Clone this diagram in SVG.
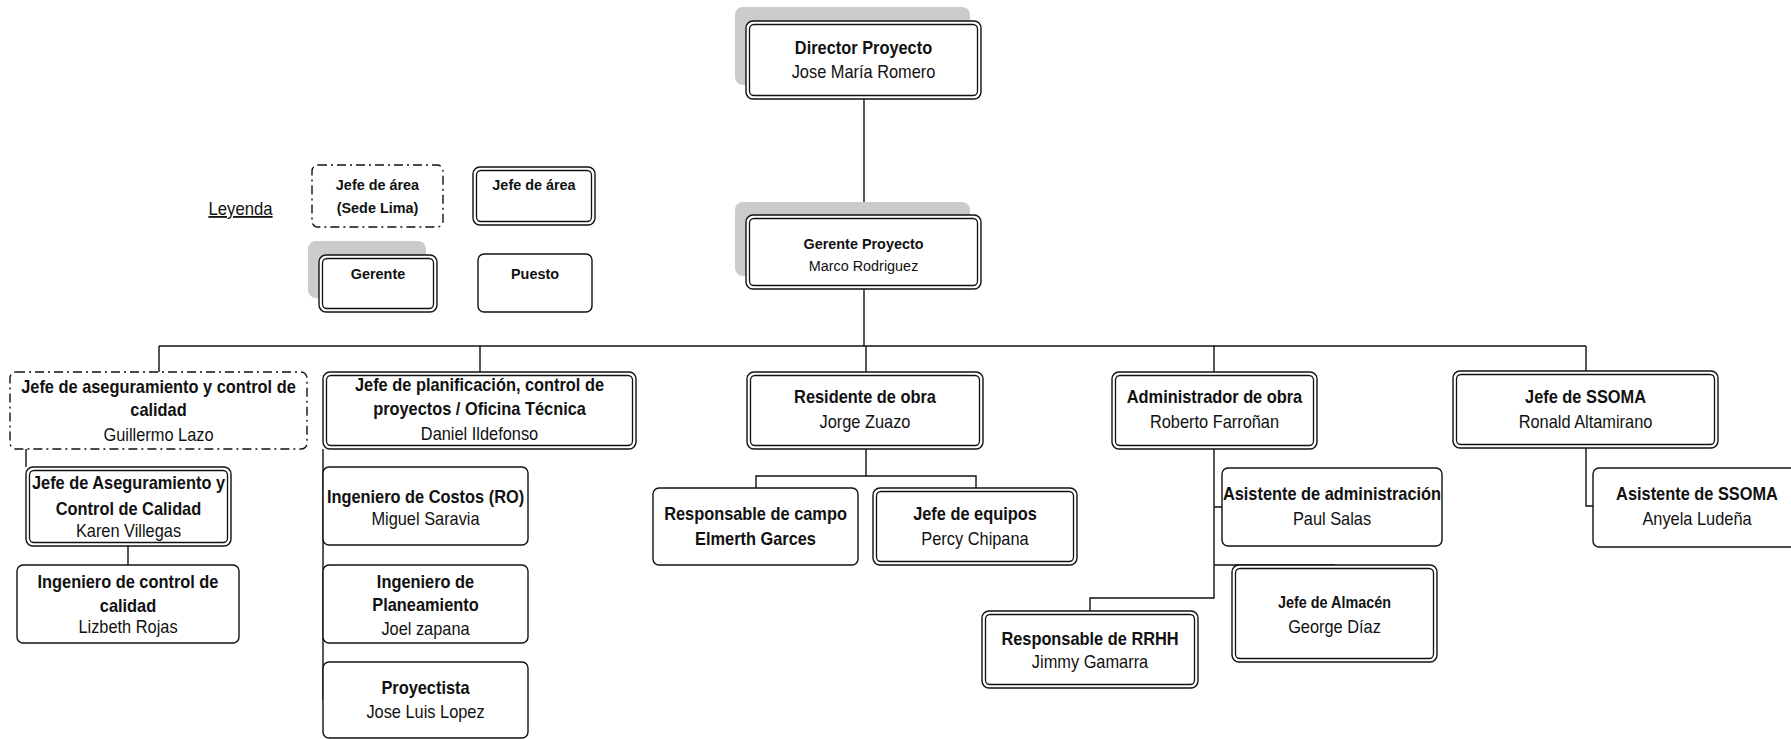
<svg xmlns="http://www.w3.org/2000/svg" width="1791" height="739" viewBox="0 0 1791 739">
  <style>
    text { font-family: "Liberation Sans", Arial, sans-serif; font-size: 18px; text-anchor: middle; fill: #111; }
    .b { font-weight: bold; }
    .s155 text { font-size: 15.5px; }
    .box { fill: #fff; stroke: #111; stroke-width: 1.4; }
    .in { fill: none; stroke: #111; stroke-width: 1.3; }
    .dash { stroke-dasharray: 9 4 2 4; }
    .sh { fill: #cbcbcb; }
    .ln { fill: none; stroke: #111; stroke-width: 1.4; }
  </style>

  <!-- connectors -->
  <g id="connectors" class="ln">
    <path d="M864 99V215"/>
    <path d="M864 289V346"/>
    <path d="M159 346H1586"/>
    <path d="M159 346V372M480 346V372M866 346V372M1214 346V372M1586 346V371"/>
    <path d="M26 449V467"/>
    <path d="M128 546V565"/>
    <path d="M323 449V700"/>
    <path d="M866 449V476M756 488V476H976V488"/>
    <path d="M1214 449V598H1090V611M1214 507H1222M1214 565H1335"/>
    <path d="M1586 448V506H1593"/>
  </g>

  <!-- legend -->
  <g id="legend">
    <text transform="matrix(.93 0 0 1 240.5 0)" y="215" style="font-size:18px;text-decoration:underline">Leyenda</text>
    <g id="legend-sede">
      <rect class="box dash" x="312" y="165" width="131" height="62" rx="6"/>
      <g class="s155" transform="matrix(.93 0 0 1 377.5 0)">
        <text class="b" y="190">Jefe de área</text>
        <text class="b" y="213">(Sede Lima)</text>
      </g>
    </g>
    <g id="legend-jefe">
      <rect class="box" x="473" y="167" width="122" height="58" rx="7"/>
      <rect class="in" x="476.5" y="170.5" width="115" height="51" rx="4.5"/>
      <g class="s155" transform="matrix(.93 0 0 1 534 0)">
        <text class="b" y="190">Jefe de área</text>
      </g>
    </g>
    <g id="legend-gerente">
      <rect class="sh" x="308" y="241" width="118" height="57" rx="8"/>
      <rect class="box" x="319" y="255" width="118" height="57" rx="7"/>
      <rect class="in" x="322.5" y="258.5" width="111" height="50" rx="4.5"/>
      <g class="s155" transform="matrix(.93 0 0 1 378 0)">
        <text class="b" y="279">Gerente</text>
      </g>
    </g>
    <g id="legend-puesto">
      <rect class="box" x="478" y="254" width="114" height="58" rx="6"/>
      <g class="s155" transform="matrix(.93 0 0 1 535 0)">
        <text class="b" y="279">Puesto</text>
      </g>
    </g>
  </g>

  <!-- management -->
  <g id="director">
    <rect class="sh" x="735" y="7" width="235" height="78" rx="8"/>
    <rect class="box" x="746" y="21" width="235" height="78" rx="7"/>
    <rect class="in" x="749.5" y="24.5" width="228" height="71" rx="4.5"/>
    <g transform="matrix(.91 0 0 1 863.5 0)">
      <text class="b" y="54">Director Proyecto</text>
      <text y="78">Jose María Romero</text>
    </g>
  </g>

  <g id="gerente">
    <rect class="sh" x="735" y="202" width="235" height="74" rx="8"/>
    <rect class="box" x="746" y="215" width="235" height="74" rx="7"/>
    <rect class="in" x="749.5" y="218.5" width="228" height="67" rx="4.5"/>
    <g class="s155" transform="matrix(.93 0 0 1 863.5 0)">
      <text class="b" y="249">Gerente Proyecto</text>
      <text y="271">Marco Rodriguez</text>
    </g>
  </g>

  <!-- quality -->
  <g id="jefe-aseguramiento">
    <rect class="box dash" x="10" y="372" width="297" height="77" rx="6"/>
    <g transform="matrix(.91 0 0 1 158.5 0)">
      <text class="b" y="393">Jefe de aseguramiento y control de</text>
      <text class="b" y="416">calidad</text>
      <text y="441">Guillermo Lazo</text>
    </g>
  </g>

  <g id="karen">
    <rect class="box" x="26" y="467" width="205" height="79" rx="7"/>
    <rect class="in" x="29.5" y="470.5" width="198" height="72" rx="4.5"/>
    <g transform="matrix(.91 0 0 1 128.5 0)">
      <text class="b" y="489">Jefe de Aseguramiento y</text>
      <text class="b" y="515">Control de Calidad</text>
      <text y="537">Karen Villegas</text>
    </g>
  </g>

  <g id="lizbeth">
    <rect class="box" x="17" y="565" width="222" height="78" rx="6"/>
    <g transform="matrix(.91 0 0 1 128 0)">
      <text class="b" y="588">Ingeniero de control de</text>
      <text class="b" y="612">calidad</text>
      <text y="633">Lizbeth Rojas</text>
    </g>
  </g>

  <!-- planning -->
  <g id="planificacion">
    <rect class="box" x="323" y="372" width="313" height="77" rx="7"/>
    <rect class="in" x="326.5" y="375.5" width="306" height="70" rx="4.5"/>
    <g transform="matrix(.91 0 0 1 479.5 0)">
      <text class="b" y="391">Jefe de planificación, control de</text>
      <text class="b" y="415">proyectos / Oficina Técnica</text>
      <text y="440">Daniel Ildefonso</text>
    </g>
  </g>

  <g id="costos">
    <rect class="box" x="323" y="467" width="205" height="78" rx="6"/>
    <g transform="matrix(.91 0 0 1 425.5 0)">
      <text class="b" y="503">Ingeniero de Costos (RO)</text>
      <text y="525">Miguel Saravia</text>
    </g>
  </g>

  <g id="planeamiento">
    <rect class="box" x="323" y="565" width="205" height="78" rx="6"/>
    <g transform="matrix(.91 0 0 1 425.5 0)">
      <text class="b" y="588">Ingeniero de</text>
      <text class="b" y="611">Planeamiento</text>
      <text y="635">Joel zapana</text>
    </g>
  </g>

  <g id="proyectista">
    <rect class="box" x="323" y="662" width="205" height="76" rx="6"/>
    <g transform="matrix(.91 0 0 1 425.5 0)">
      <text class="b" y="694">Proyectista</text>
      <text y="718">Jose Luis Lopez</text>
    </g>
  </g>

  <!-- site -->
  <g id="residente">
    <rect class="box" x="747" y="372" width="236" height="77" rx="7"/>
    <rect class="in" x="750.5" y="375.5" width="229" height="70" rx="4.5"/>
    <g transform="matrix(.91 0 0 1 865 0)">
      <text class="b" y="403">Residente de obra</text>
      <text y="428">Jorge Zuazo</text>
    </g>
  </g>

  <g id="campo">
    <rect class="box" x="653" y="488" width="205" height="77" rx="6"/>
    <g transform="matrix(.91 0 0 1 755.5 0)">
      <text class="b" y="520">Responsable de campo</text>
      <text class="b" y="545">Elmerth Garces</text>
    </g>
  </g>

  <g id="equipos">
    <rect class="box" x="873" y="488" width="204" height="77" rx="7"/>
    <rect class="in" x="876.5" y="491.5" width="197" height="70" rx="4.5"/>
    <g transform="matrix(.91 0 0 1 975 0)">
      <text class="b" y="520">Jefe de equipos</text>
      <text y="545">Percy Chipana</text>
    </g>
  </g>

  <!-- administration -->
  <g id="administrador">
    <rect class="box" x="1112" y="372" width="205" height="77" rx="7"/>
    <rect class="in" x="1115.5" y="375.5" width="198" height="70" rx="4.5"/>
    <g transform="matrix(.91 0 0 1 1214.5 0)">
      <text class="b" y="403">Administrador de obra</text>
      <text y="428">Roberto Farroñan</text>
    </g>
  </g>

  <g id="asistente-admin">
    <rect class="box" x="1222" y="468" width="220" height="78" rx="6"/>
    <g transform="matrix(.91 0 0 1 1332 0)">
      <text class="b" y="500">Asistente de administración</text>
      <text y="525">Paul Salas</text>
    </g>
  </g>

  <g id="almacen">
    <rect class="box" x="1232" y="565" width="205" height="97" rx="7"/>
    <rect class="in" x="1235.5" y="568.5" width="198" height="90" rx="4.5"/>
    <g transform="matrix(.91 0 0 1 1334.5 0)">
      <text class="b" y="608" style="font-size:15.8px">Jefe de Almacén</text>
      <text y="633">George Díaz</text>
    </g>
  </g>

  <g id="rrhh">
    <rect class="box" x="982" y="611" width="216" height="77" rx="7"/>
    <rect class="in" x="985.5" y="614.5" width="209" height="70" rx="4.5"/>
    <g transform="matrix(.91 0 0 1 1090 0)">
      <text class="b" y="645">Responsable de RRHH</text>
      <text y="668">Jimmy Gamarra</text>
    </g>
  </g>

  <!-- safety -->
  <g id="ssoma">
    <rect class="box" x="1453" y="371" width="265" height="77" rx="7"/>
    <rect class="in" x="1456.5" y="374.5" width="258" height="70" rx="4.5"/>
    <g transform="matrix(.91 0 0 1 1585.5 0)">
      <text class="b" y="403">Jefe de SSOMA</text>
      <text y="428">Ronald Altamirano</text>
    </g>
  </g>

  <g id="asistente-ssoma">
    <rect class="box" x="1593" y="468" width="210" height="79" rx="6"/>
    <g transform="matrix(.91 0 0 1 1697 0)">
      <text class="b" y="500">Asistente de SSOMA</text>
      <text y="525">Anyela Ludeña</text>
    </g>
  </g>
</svg>
